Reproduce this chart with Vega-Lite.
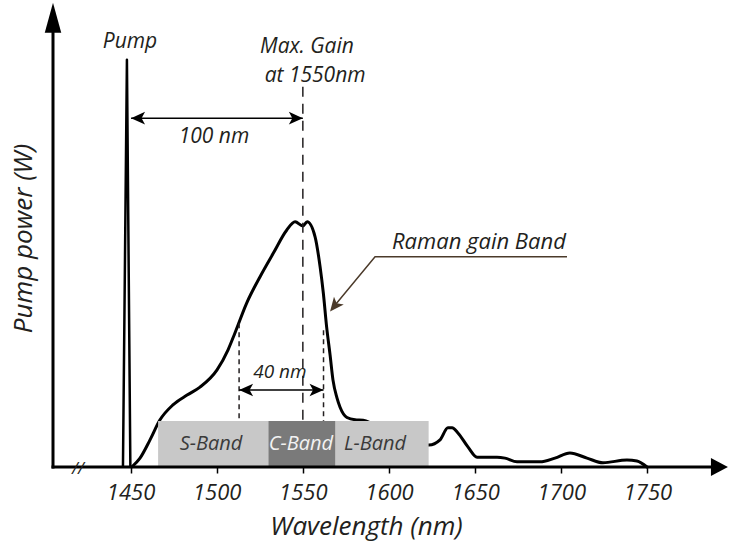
{
  "$schema": "https://vega.github.io/schema/vega-lite/v6.json",
  "width": 672,
  "height": 467,
  "autosize": {"type": "none"},
  "padding": {"left": 53, "top": 0, "right": 4, "bottom": 77},
  "background": "white",
  "config": {
    "view": {"stroke": null},
    "text": {"font": "Open Sans", "fontStyle": "italic", "color": "#231f20"},
    "axisX": {"domain": false, "grid": false, "ticks": true, "tickSize": 6, "tickWidth": 1.5, "tickColor": "#000",
      "labelFont": "Open Sans", "labelFontStyle": "italic", "labelFontSize": 22, "labelColor": "#231f20", "labelPadding": 9,
      "labelFlush": false, "labelOverlap": false, "format": "d",
      "titleFont": "Open Sans", "titleFontStyle": "italic", "titleFontWeight": "normal", "titleFontSize": 26,
      "titleColor": "#231f20", "titleX": 313, "titleY": 59, "titleAlign": "center", "titleBaseline": "middle"},
    "axisY": {"domain": false, "ticks": false, "labels": false, "grid": false,
      "titleFont": "Open Sans", "titleFontStyle": "italic", "titleFontWeight": "normal", "titleFontSize": 26,
      "titleColor": "#231f20", "titleAngle": 270, "titleX": -30, "titleY": 238, "titleAlign": "center", "titleBaseline": "middle"}
  },
  "datasets": {
    "gain": [
      {"wl": 1450.7, "p": 0}, {"wl": 1455.5, "p": 1.9}, {"wl": 1461.3, "p": 5.8}, {"wl": 1467.1, "p": 10.1},
      {"wl": 1474.6, "p": 13.3}, {"wl": 1482.8, "p": 15.4}, {"wl": 1490.3, "p": 17.1}, {"wl": 1500.2, "p": 20.8},
      {"wl": 1506.6, "p": 25.1}, {"wl": 1510.6, "p": 28.7}, {"wl": 1517.4, "p": 35.1}, {"wl": 1525.1, "p": 40.7},
      {"wl": 1532.9, "p": 45.8}, {"wl": 1540.6, "p": 50.7}, {"wl": 1545.5, "p": 52.5}, {"wl": 1550.0, "p": 51.6},
      {"wl": 1552.5, "p": 52.5}, {"wl": 1557.1, "p": 49.3}, {"wl": 1560.0, "p": 42.9}, {"wl": 1561.9, "p": 37.2},
      {"wl": 1563.8, "p": 30.0}, {"wl": 1565.8, "p": 24.0}, {"wl": 1567.5, "p": 18.6}, {"wl": 1569.8, "p": 14.8},
      {"wl": 1571.6, "p": 12.8}, {"wl": 1575.6, "p": 10.6}, {"wl": 1580.3, "p": 10.1}, {"wl": 1585.0, "p": 10.0},
      {"wl": 1600.0, "p": 7.0}, {"wl": 1615.0, "p": 5.5}, {"wl": 1623.2, "p": 4.7}, {"wl": 1629.6, "p": 5.8},
      {"wl": 1634.2, "p": 8.4}, {"wl": 1636.6, "p": 8.4}, {"wl": 1640.0, "p": 7.3}, {"wl": 1645.8, "p": 4.3},
      {"wl": 1651.1, "p": 2.1}, {"wl": 1662.7, "p": 2.1}, {"wl": 1667.3, "p": 1.9}, {"wl": 1674.3, "p": 1.1},
      {"wl": 1687.6, "p": 1.1}, {"wl": 1696.3, "p": 1.9}, {"wl": 1705.0, "p": 3.0}, {"wl": 1714.9, "p": 1.9},
      {"wl": 1724.2, "p": 0.9}, {"wl": 1738.1, "p": 1.5}, {"wl": 1743.9, "p": 1.3}, {"wl": 1749.7, "p": 0}
    ],
    "pump": [
      {"wl": 1445.6, "p": 0}, {"wl": 1447.9, "p": 87.2}, {"wl": 1449.9, "p": 0}
    ],
    "bands": [
      {"band": "S-Band", "start": 1466, "end": 1530, "top": 9.85, "mid": 1496.7, "lp": 4.9},
      {"band": "C-Band", "start": 1530, "end": 1569, "top": 9.85, "mid": 1548.9, "lp": 4.9},
      {"band": "L-Band", "start": 1569, "end": 1623, "top": 9.85, "mid": 1591.9, "lp": 4.9}
    ],
    "spans": [
      {"label": "100 nm", "from": 1450.3, "to": 1550, "p": 74.7},
      {"label": "40 nm", "from": 1513, "to": 1562, "p": 16.5}
    ]
  },
  "layer": [
    {
      "data": {"name": "gain"},
      "mark": {"type": "line", "stroke": "#000", "strokeWidth": 3, "interpolate": "monotone", "strokeJoin": "round", "strokeCap": "round"},
      "encoding": {
        "x": {"field": "wl", "type": "quantitative", "scale": {"domain": [1405, 1795], "nice": false, "zero": false},
          "axis": {"values": [1450, 1500, 1550, 1600, 1650, 1700, 1750], "title": "Wavelength (nm)"}},
        "y": {"field": "p", "type": "quantitative", "scale": {"domain": [0, 100], "nice": false, "zero": false},
          "axis": {"title": "Pump power (W)"}}
      }
    },
    {
      "data": {"name": "pump"},
      "mark": {"type": "line", "stroke": "#000", "strokeWidth": 2.5, "strokeJoin": "round"},
      "encoding": {
        "x": {"field": "wl", "type": "quantitative"},
        "y": {"field": "p", "type": "quantitative"}
      }
    },
    {
      "data": {"values": [{"wl": 1550, "p": 81.4, "p2": 0}]},
      "mark": {"type": "rule", "stroke": "#231f20", "strokeWidth": 1.5, "strokeDash": [10, 7]},
      "encoding": {
        "x": {"field": "wl", "type": "quantitative"},
        "y": {"field": "p", "type": "quantitative"},
        "y2": {"field": "p2"}
      }
    },
    {
      "data": {"values": [{"wl": 1513, "p": 30.8, "p2": 9.85}, {"wl": 1562, "p": 29.3, "p2": 9.85}]},
      "mark": {"type": "rule", "stroke": "#231f20", "strokeWidth": 1.5, "strokeDash": [5, 4]},
      "encoding": {
        "x": {"field": "wl", "type": "quantitative"},
        "y": {"field": "p", "type": "quantitative"},
        "y2": {"field": "p2"}
      }
    },
    {
      "data": {"name": "bands"},
      "mark": {"type": "rect"},
      "encoding": {
        "x": {"field": "start", "type": "quantitative"},
        "x2": {"field": "end"},
        "y": {"field": "top", "type": "quantitative"},
        "y2": {"datum": 0},
        "fill": {"field": "band", "type": "nominal", "scale": {"domain": ["S-Band", "C-Band", "L-Band"], "range": ["#c8c8c8", "#7a7a7a", "#c8c8c8"]}, "legend": null}
      }
    },
    {
      "data": {"name": "bands"},
      "mark": {"type": "text", "fontSize": 20, "font": "Open Sans", "fontStyle": "italic"},
      "encoding": {
        "x": {"field": "mid", "type": "quantitative"},
        "y": {"field": "lp", "type": "quantitative"},
        "text": {"field": "band"},
        "color": {"condition": {"test": "datum.band === 'C-Band'", "value": "#f2f2f2"}, "value": "#3a3a3a"}
      }
    },
    {
      "data": {"name": "spans"},
      "mark": {"type": "rule", "stroke": "#000", "strokeWidth": 1.5},
      "encoding": {
        "x": {"field": "from", "type": "quantitative"},
        "x2": {"field": "to"},
        "y": {"field": "p", "type": "quantitative"}
      }
    },
    {
      "data": {"name": "spans"},
      "mark": {"type": "point", "shape": "M0,0L0.9,2L0,1.5L-0.9,2Z", "size": 196, "angle": 270, "filled": true, "opacity": 1, "color": "#000", "strokeWidth": 0},
      "encoding": {
        "x": {"field": "from", "type": "quantitative"},
        "y": {"field": "p", "type": "quantitative"}
      }
    },
    {
      "data": {"name": "spans"},
      "mark": {"type": "point", "shape": "M0,0L0.9,2L0,1.5L-0.9,2Z", "size": 196, "angle": 90, "filled": true, "opacity": 1, "color": "#000", "strokeWidth": 0},
      "encoding": {
        "x": {"field": "to", "type": "quantitative"},
        "y": {"field": "p", "type": "quantitative"}
      }
    },
    {
      "data": {"values": [
        {"label": "Pump", "wl": 1449.7, "p": 91.0},
        {"label": "Max. Gain", "wl": 1552.4, "p": 89.9},
        {"label": "at 1550nm", "wl": 1557.1, "p": 83.7},
        {"label": "100 nm", "wl": 1498.4, "p": 70.7}
      ]},
      "mark": {"type": "text", "fontSize": 21, "font": "Open Sans", "fontStyle": "italic", "color": "#231f20"},
      "encoding": {
        "x": {"field": "wl", "type": "quantitative"},
        "y": {"field": "p", "type": "quantitative"},
        "text": {"field": "label"}
      }
    },
    {
      "data": {"values": [{"label": "Raman gain Band", "wl": 1652.2, "p": 48.2}]},
      "mark": {"type": "text", "fontSize": 22, "font": "Open Sans", "fontStyle": "italic", "color": "#231f20"},
      "encoding": {
        "x": {"field": "wl", "type": "quantitative"},
        "y": {"field": "p", "type": "quantitative"},
        "text": {"field": "label"}
      }
    },
    {
      "data": {"values": [{"label": "40 nm", "wl": 1536.7, "p": 20.3}]},
      "mark": {"type": "text", "fontSize": 19, "font": "Open Sans", "fontStyle": "italic", "color": "#231f20"},
      "encoding": {
        "x": {"field": "wl", "type": "quantitative"},
        "y": {"field": "p", "type": "quantitative"},
        "text": {"field": "label"}
      }
    },
    {
      "data": {"values": [{"o": 1, "wl": 1703.3, "p": 45.0}, {"o": 2, "wl": 1591.9, "p": 45.0}, {"o": 3, "wl": 1568.5, "p": 34.6}]},
      "mark": {"type": "line", "stroke": "#4b3a2a", "strokeWidth": 1.5},
      "encoding": {
        "x": {"field": "wl", "type": "quantitative"},
        "y": {"field": "p", "type": "quantitative"},
        "order": {"field": "o", "type": "quantitative"}
      }
    },
    {
      "data": {"values": [{"wl": 1565.8, "p": 33.3}]},
      "mark": {"type": "point", "shape": "M0,0L0.9,2L0,1.5L-0.9,2Z", "size": 196, "angle": 219, "filled": true, "opacity": 1, "color": "#4b3a2a", "strokeWidth": 0},
      "encoding": {
        "x": {"field": "wl", "type": "quantitative"},
        "y": {"field": "p", "type": "quantitative"}
      }
    },
    {
      "data": {"values": [{"wl": 1405, "wl2": 1787, "p": 0}]},
      "mark": {"type": "rule", "stroke": "#000", "strokeWidth": 3, "strokeCap": "square"},
      "encoding": {
        "x": {"field": "wl", "type": "quantitative"},
        "x2": {"field": "wl2"},
        "y": {"field": "p", "type": "quantitative"}
      }
    },
    {
      "data": {"values": [{"wl": 1405, "p": 0, "p2": 93}]},
      "mark": {"type": "rule", "stroke": "#000", "strokeWidth": 3, "strokeCap": "square"},
      "encoding": {
        "x": {"field": "wl", "type": "quantitative"},
        "y": {"field": "p", "type": "quantitative"},
        "y2": {"field": "p2"}
      }
    },
    {
      "data": {"values": [{"wl": 1405, "p": 99.4}]},
      "mark": {"type": "point", "shape": "M0,0L0.55,2L-0.55,2Z", "size": 900, "angle": 0, "filled": true, "opacity": 1, "color": "#000", "strokeWidth": 0},
      "encoding": {
        "x": {"field": "wl", "type": "quantitative"},
        "y": {"field": "p", "type": "quantitative"}
      }
    },
    {
      "data": {"values": [{"wl": 1796.7, "p": 0}]},
      "mark": {"type": "point", "shape": "M0,0L1.06,2L-1.06,2Z", "size": 289, "angle": 90, "filled": true, "opacity": 1, "color": "#000", "strokeWidth": 0},
      "encoding": {
        "x": {"field": "wl", "type": "quantitative"},
        "y": {"field": "p", "type": "quantitative"}
      }
    },
    {
      "data": {"values": [{"label": "//", "wl": 1419.5, "p": -0.4}]},
      "mark": {"type": "text", "fontSize": 17, "font": "Open Sans", "fontStyle": "italic", "color": "#231f20"},
      "encoding": {
        "x": {"field": "wl", "type": "quantitative"},
        "y": {"field": "p", "type": "quantitative"},
        "text": {"field": "label"}
      }
    }
  ]
}
